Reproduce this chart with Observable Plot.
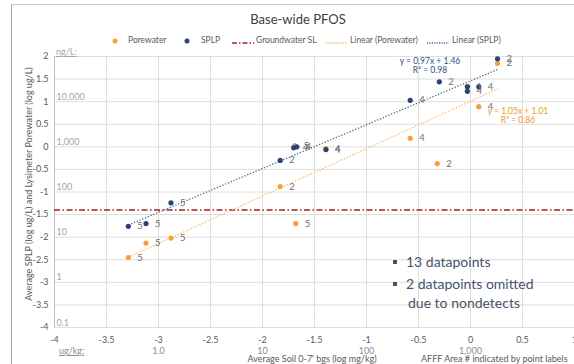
<!DOCTYPE html>
<html>
<head>
<meta charset="utf-8">
<script src="https://cdn.jsdelivr.net/npm/d3@7"></script>
<script src="https://cdn.jsdelivr.net/npm/@observablehq/plot@0.6"></script>
<style>
  html, body { margin:0; padding:0; background:#fff; }
  #wrap { position:relative; width:574px; height:364px; overflow:hidden; font-family:"Lato", sans-serif; }
  .ov { position:absolute; white-space:nowrap; }
  #border { position:absolute; left:11px; top:4px; width:600px; height:400px; border-left:1.5px solid #a6a6a6; border-top:1.5px solid #c8c8c8; box-sizing:border-box; pointer-events:none; }
</style>
</head>
<body>
<div id="wrap">
  <div id="border"></div>
</div>
<script>
// ---- data ----
const porewaterX     = [0.26, -0.03, 0.08, -0.58, -1.69, -1.39, -0.32, -1.83, -1.68, -3.12, -2.88, -3.29];
const porewaterY     = [1.85, 1.34, 0.89, 0.19, 0.03, -0.04, -0.37, -0.88, -1.70, -2.13, -2.02, -2.45];
const porewaterLabel = ["2", "", "4", "4", "5", "4", "2", "2", "5", "5", "5", "5"];

const splpX     = [0.26, -0.30, -0.03, -0.03, 0.08, -0.58, -1.70, -1.67, -1.39, -1.83, -2.88, -3.29, -3.12];
const splpY     = [1.95, 1.44, 1.33, 1.23, 1.33, 1.03, -0.02, 0.00, -0.06, -0.30, -1.24, -1.76, -1.70];
const splpLabel = ["2", "2", "1", "4", "4", "4", "4", "4", "4", "2", "5", "5", "5"];

const groundwaterSL = -1.4; // log ug/L (40 ng/L)

const trendSeries    = ["Porewater", "SPLP"];
const trendSlope     = [1.05, 0.97];
const trendIntercept = [1.01, 1.46];

const xTicks = [-4, -3.5, -3, -2.5, -2, -1.5, -1, -0.5, 0, 0.5, 1];
const yTicks = [-4, -3.5, -3, -2.5, -2, -1.5, -1, -0.5, 0, 0.5, 1, 1.5, 2];
const ySecondaryVals   = [1, 0, -1, -2, -3, -4];
const ySecondaryLabels = ["10,000", "1,000", "100", "10", "1", "0.1"];
const xSecondaryVals   = [-3, -2, -1, 0];
const xSecondaryLabels = ["1.0", "10", "100", "1,000"];

// ---- tables ----
const pore = porewaterX.map((x, i) => ({x, y: porewaterY[i], label: porewaterLabel[i]}));
const splp = splpX.map((x, i) => ({x, y: splpY[i], label: splpLabel[i]}));
const seriesData = {Porewater: pore, SPLP: splp};
const trends = trendSeries.map((s, i) => {
  const xs = seriesData[s].map(d => d.x);
  const x1 = d3.min(xs), x2 = d3.max(xs);
  return {s, x1, x2, y1: trendSlope[i] * x1 + trendIntercept[i], y2: trendSlope[i] * x2 + trendIntercept[i]};
});
const ySec = ySecondaryVals.map((v, i) => ({v, t: ySecondaryLabels[i]}));
const xSec = xSecondaryVals.map((v, i) => ({v, t: xSecondaryLabels[i]}));

const ORANGE = "#f5a03a", BLUE = "#264478";
const fmt = d => String(d);

const chart = Plot.plot({
  width: 574, height: 364,
  marginLeft: 54, marginRight: 0, marginTop: 56, marginBottom: 37,
  x: {domain: [-4, 1], label: null},
  y: {domain: [-4, 2], label: null},
  style: {fontFamily: "Lato, sans-serif", fontSize: "9px", color: "#595959", background: "transparent", overflow: "visible"},
  marks: [
    Plot.gridX(xTicks, {stroke: "#dedede", strokeOpacity: 1}),
    Plot.gridY(yTicks, {stroke: "#dedede", strokeOpacity: 1}),
    Plot.ruleX([-4], {stroke: "#bdbdbd"}),
    Plot.text(ySec, {x: () => -4, y: "v", text: "t", dx: 2, dy: -2, textAnchor: "start", lineAnchor: "bottom", fill: "#a6a6a6", fontSize: 9}),
    Plot.text(xSec, {x: "v", y: () => -4, text: "t", dy: 24, lineAnchor: "middle", fill: "#8c8c8c", fontSize: 9}),
    Plot.ruleY([groundwaterSL], {stroke: "#a8201a", strokeWidth: 1.5, strokeDasharray: "6,2.5,1.5,2.5"}),
    Plot.link(trends, {x1: "x1", y1: "y1", x2: "x2", y2: "y2",
      stroke: d => d.s === "SPLP" ? "#4a6a96" : "#f6b764", strokeWidth: 1.3, strokeDasharray: "1.3,1.7"}),
    Plot.dot(pore, {x: "x", y: "y", r: 2.6, fill: ORANGE}),
    Plot.dot(splp, {x: "x", y: "y", r: 2.6, fill: BLUE}),
    Plot.text(pore, {x: "x", y: "y", text: "label", dx: 9, textAnchor: "start", fill: "#6e6e6e", fontSize: 9.5}),
    Plot.text(splp, {x: "x", y: "y", text: "label", dx: 9, textAnchor: "start", fill: "#6e6e6e", fontSize: 9.5}),
    Plot.axisX(xTicks, {tickSize: 0, tickPadding: 9, tickFormat: fmt, fontSize: 9, fill: "#595959"}),
    Plot.axisY(yTicks, {tickSize: 0, tickPadding: 6, tickFormat: fmt, fontSize: 9, fill: "#595959"})
  ]
});

const wrap = document.getElementById("wrap");
chart.style.position = "absolute";
chart.style.left = "0px";
chart.style.top = "0px";
wrap.insertBefore(chart, wrap.firstChild);

function ov(html, css) {
  const d = document.createElement("div");
  d.className = "ov";
  d.innerHTML = html;
  d.style.cssText += css;
  wrap.appendChild(d);
  return d;
}
// title
ov("Base-wide PFOS", "left:0;width:596px;text-align:center;top:11px;font-size:13px;color:#404040;");
// legend
const legItems = [
  {sym: `<svg width="6" height="6"><circle cx="3" cy="3" r="2.5" fill="${ORANGE}"/></svg>`, sx: 112, text: "Porewater", tx: 128},
  {sym: `<svg width="6" height="6"><circle cx="3" cy="3" r="2.5" fill="${BLUE}"/></svg>`, sx: 184, text: "SPLP", tx: 201},
  {sym: `<svg width="22" height="4"><line x1="0" y1="2" x2="22" y2="2" stroke="#a8201a" stroke-width="1.6" stroke-dasharray="5,2,1.5,2"/></svg>`, sx: 232, text: "Groundwater SL", tx: 256},
  {sym: `<svg width="21" height="4"><line x1="0" y1="2" x2="21" y2="2" stroke="#f6b764" stroke-width="1.3" stroke-dasharray="1.2,1.2"/></svg>`, sx: 326, text: "Linear (Porewater)", tx: 350},
  {sym: `<svg width="22" height="4"><line x1="0" y1="2" x2="22" y2="2" stroke="#4a6a96" stroke-width="1.3" stroke-dasharray="1.2,1.2"/></svg>`, sx: 427, text: "Linear (SPLP)", tx: 452}
];
legItems.forEach(it => {
  const h = it.sym.includes("circle") ? 6 : 4;
  ov(it.sym, `left:${it.sx}px;top:${41 - h/2}px;line-height:0;`);
  ov(it.text, `left:${it.tx}px;top:35px;font-size:8.5px;color:#595959;`);
});
// secondary axis headers
ov("ng/L:", "left:56px;top:46px;font-size:9px;color:#a6a6a6;text-decoration:underline;");
ov("ug/kg:", "left:59px;top:345px;font-size:9px;color:#8c8c8c;text-decoration:underline;");
// axis titles
ov("Average SPLP (log ug/L) and Lysimeter Porewater (log ug/L)",
   "left:28px;top:184px;font-size:9px;color:#595959;transform:translate(-50%,-50%) rotate(-90deg);");
ov("Average Soil 0-7' bgs (log mg/kg)", "left:312px;top:353px;transform:translateX(-50%);font-size:9px;color:#595959;");
ov("AFFF Area # indicated by point labels", "left:421px;top:353px;font-size:9px;color:#595959;");
// trendline equations
ov("y = 0.97x + 1.46<br>R² = 0.98", "left:430px;top:57px;transform:translateX(-50%);text-align:center;font-size:8.5px;line-height:8.5px;color:#2f4f7f;");
ov("y = 1.05x + 1.01<br>R² = 0.86", "left:518px;top:107px;transform:translateX(-50%);text-align:center;font-size:8.5px;line-height:8.5px;color:#f0961e;");
// note
ov("<span style='display:inline-block;width:4px;height:4px;background:#44546a;vertical-align:middle;margin-right:9px;position:relative;top:-1px'></span>13 datapoints",
   "left:393px;top:253px;font-size:14px;color:#44546a;");
ov("<span style='display:inline-block;width:4px;height:4px;background:#44546a;vertical-align:middle;margin-right:9px;position:relative;top:-1px'></span>2 datapoints omitted<br><span style='padding-left:15px'>due to nondetects</span>",
   "left:393px;top:274px;font-size:14px;line-height:19px;color:#44546a;");
</script>
</body>
</html>
